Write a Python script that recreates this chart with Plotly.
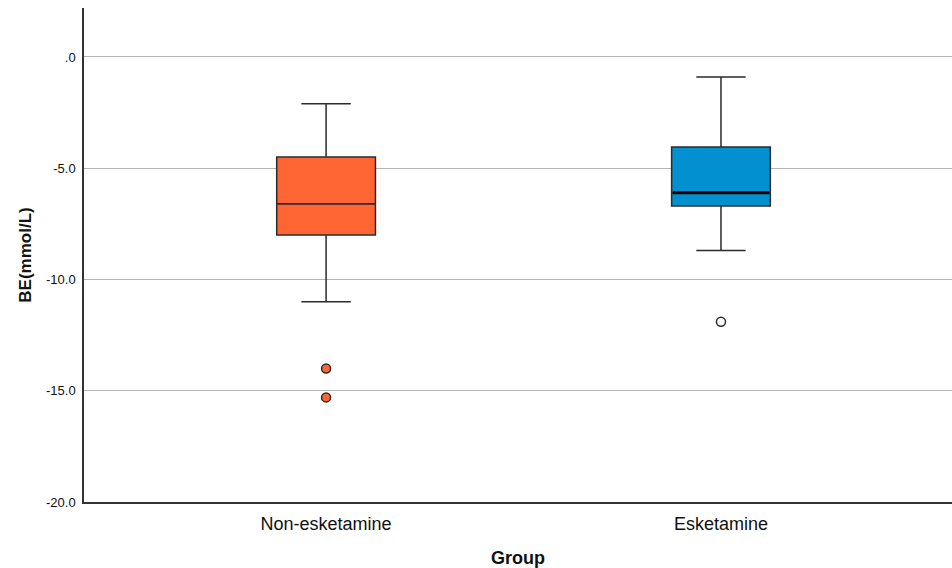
import plotly.graph_objects as go

groups = ["Non-esketamine", "Esketamine"]
positions = [0, 1]
upper_whisker = [-2.1, -0.9]
q3 = [-4.5, -4.05]
median = [-6.6, -6.1]
q1 = [-8.0, -6.7]
lower_whisker = [-11.0, -8.7]
outliers = [[-14.0, -15.3], [-11.9]]
colors = ["#FF6633", "#0390D0"]
outlier_fill = ["#FF6633", "#FFFFFF"]
median_widths = [1.5, 3.0]
y_ticks = [0, -5, -10, -15, -20]
y_tick_labels = [".0", "-5.0", "-10.0", "-15.0", "-20.0"]

box_width = 0.25
edge = "#2b2b2b"

fig = go.Figure()
for i, g in enumerate(groups):
    fig.add_trace(go.Box(
        x=[positions[i]], q1=[q1[i]], median=[median[i]], q3=[q3[i]],
        lowerfence=[lower_whisker[i]], upperfence=[upper_whisker[i]],
        width=box_width, whiskerwidth=0.5,
        fillcolor=colors[i], line=dict(color=edge, width=1.5),
        boxpoints=False, showlegend=False, name=g,
    ))
    # median line (thickness differs per group)
    fig.add_trace(go.Scatter(
        x=[positions[i] - box_width / 2 + 0.003, positions[i] + box_width / 2 - 0.003],
        y=[median[i], median[i]], mode="lines",
        line=dict(color="#000000" if median_widths[i] > 2 else edge, width=median_widths[i]),
        showlegend=False, hoverinfo="skip",
    ))
    fig.add_trace(go.Scatter(
        x=[positions[i]] * len(outliers[i]), y=outliers[i], mode="markers",
        marker=dict(size=9, color=outlier_fill[i], line=dict(color=edge, width=1.5)),
        showlegend=False,
    ))

fig.update_layout(
    width=952, height=568,
    margin=dict(l=84, r=0, t=8, b=66),
    paper_bgcolor="white", plot_bgcolor="white",
    font=dict(family="Liberation Sans, Arial, sans-serif", color="#111111"),
    xaxis=dict(
        range=[-0.613, 1.585], tickvals=positions, ticktext=groups,
        tickfont=dict(size=18), showgrid=False, zeroline=False,
        showline=True, linecolor="#333333", linewidth=1.5, ticks="",
        ticklabelstandoff=5,
        title=dict(text="<b>Group</b>", font=dict(size=18), standoff=18),
    ),
    yaxis=dict(
        range=[-20, 2.2], tickvals=y_ticks, ticktext=y_tick_labels,
        tickfont=dict(size=13), showgrid=True, gridcolor="#b5b5b5", gridwidth=1,
        zeroline=False, showline=True, linecolor="#333333", linewidth=1.5, ticks="",
        ticklabelstandoff=4,
        title=dict(text="<b>BE(mmol/L)</b>", font=dict(size=17), standoff=10),
    ),
)

fig.write_html(
    "out.html",
    config={"displayModeBar": False},
    post_script="document.body.style.margin='0';document.body.style.overflow='hidden';",
)
